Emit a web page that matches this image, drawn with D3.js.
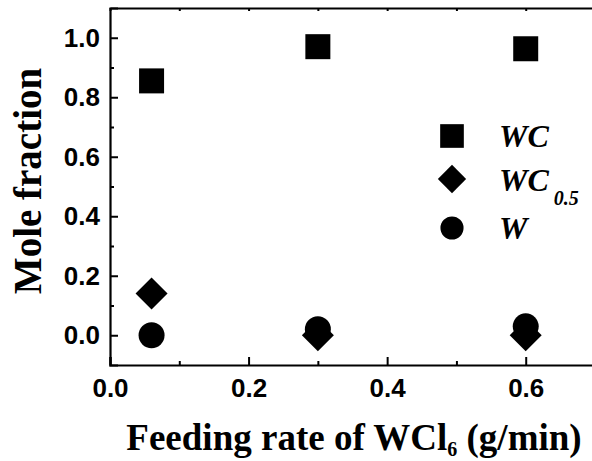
<!DOCTYPE html>
<html>
<head>
<meta charset="utf-8">
<script src="https://cdn.jsdelivr.net/npm/d3@7"></script>
<style>
  body { margin: 0; background: #fff; }
  svg { display: block; }
</style>
</head>
<body>
<script>
// data
const feedRate = [0.06, 0.3, 0.6];
const wcValues = [0.855, 0.97, 0.963];
const wc05Values = [0.14, 0.0, 0.0];
const wValues = [0.0, 0.02, 0.03];
const xMajorTicks = [0.0, 0.2, 0.4, 0.6];
const xMinorTicks = [0.1, 0.3, 0.5];
const yMajorTicks = [0.0, 0.2, 0.4, 0.6, 0.8, 1.0];
const yMinorTicks = [0.1, 0.3, 0.5, 0.7, 0.9];

const width = 592, height = 461;
const plotLeft = 110, plotTop = 8, plotRight = 595, plotBottom = 365;

const svg = d3.select("body").append("svg")
    .attr("width", width).attr("height", height);

const x = d3.scaleLinear().domain([0, 0.7]).range([plotLeft, plotRight]);
const y = d3.scaleLinear().domain([-0.1, 1.1]).range([plotBottom, plotTop]);

const fmt = d3.format(".1f");
const tickFont = "'Liberation Sans', Arial, sans-serif";
const serif = "'Liberation Serif', 'Times New Roman', serif";

// bottom axis
svg.append("g").attr("transform", "translate(0," + plotBottom + ")")
    .call(d3.axisBottom(x).tickValues(xMajorTicks).tickFormat(fmt).tickSize(-8).tickPadding(14));
svg.append("g").attr("transform", "translate(0," + plotBottom + ")")
    .call(d3.axisBottom(x).tickValues(xMinorTicks).tickFormat("").tickSize(-4))
    .select(".domain").remove();

// left axis
svg.append("g").attr("transform", "translate(" + plotLeft + ",0)")
    .call(d3.axisLeft(y).tickValues(yMajorTicks).tickFormat(fmt).tickSize(-8).tickPadding(10));
svg.append("g").attr("transform", "translate(" + plotLeft + ",0)")
    .call(d3.axisLeft(y).tickValues(yMinorTicks).tickFormat("").tickSize(-4))
    .select(".domain").remove();

// top and right frame
svg.append("g").attr("transform", "translate(0," + plotTop + ")")
    .call(d3.axisTop(x).tickValues(xMajorTicks.concat(xMinorTicks)).tickFormat("").tickSize(-3).tickSizeOuter(0));
svg.append("g").attr("transform", "translate(" + plotRight + ",0)")
    .call(d3.axisRight(y).tickValues(yMajorTicks).tickFormat("").tickSize(-3).tickSizeOuter(0));

svg.selectAll(".domain").attr("stroke", "#000").attr("stroke-width", 2.2);
svg.selectAll(".tick line").attr("stroke", "#000").attr("stroke-width", 2);
svg.selectAll(".tick text")
    .attr("font-family", tickFont)
    .attr("font-weight", "bold")
    .attr("font-size", 26)
    .attr("fill", "#000");

// markers
const square = d3.symbol().type(d3.symbolSquare);
const circle = d3.symbol().type(d3.symbolCircle);

const series = [
    { name: "WC", values: wcValues, shape: square, size: 625, rot: 0 },
    { name: "WC05", values: wc05Values, shape: square, size: 512, rot: 45 },
    { name: "W", values: wValues, shape: circle, size: 530, rot: 0 }
];

// draw W first so the diamonds sit on top like in the original
[series[0], series[2], series[1]].forEach(function(s) {
    svg.append("g").selectAll("path")
        .data(feedRate).enter()
        .append("path")
        .attr("d", s.shape.size(s.size)())
        .attr("transform", function(d, i) {
            return "translate(" + x(d) + "," + y(s.values[i]) + ") rotate(" + s.rot + ")";
        })
        .attr("fill", "#000");
});

// legend
const legY = [136, 179, 228];
const legSizes = [560, 400, 420];
series.forEach(function(s, i) {
    svg.append("path")
        .attr("d", s.shape.size(legSizes[i])())
        .attr("transform", "translate(452," + legY[i] + ") rotate(" + s.rot + ")")
        .attr("fill", "#000");
});

function legendText(yPos) {
    return svg.append("text")
        .attr("x", 499).attr("y", yPos)
        .attr("font-family", serif)
        .attr("font-weight", "bold")
        .attr("font-style", "italic")
        .attr("font-size", 32)
        .attr("fill", "#000");
}
legendText(147).text("WC");
const t2 = legendText(191);
t2.append("tspan").text("WC");
t2.append("tspan").attr("dx", 5).attr("dy", 14).attr("font-size", 20).text("0.5");
legendText(239).text("W");

// axis titles
const xt = svg.append("text")
    .attr("x", 354).attr("y", 450)
    .attr("text-anchor", "middle")
    .attr("font-family", serif)
    .attr("font-weight", "bold")
    .attr("font-size", 37)
    .attr("fill", "#000");
xt.append("tspan").text("Feeding rate of WCl");
xt.append("tspan").attr("dy", 6).attr("font-size", 20).text("6");
xt.append("tspan").attr("dy", -6).text(" (g/min)");

svg.append("text")
    .attr("transform", "translate(41,181) rotate(-90)")
    .attr("text-anchor", "middle")
    .attr("font-family", serif)
    .attr("font-weight", "bold")
    .attr("font-size", 39)
    .attr("fill", "#000")
    .text("Mole fraction");
</script>
</body>
</html>
